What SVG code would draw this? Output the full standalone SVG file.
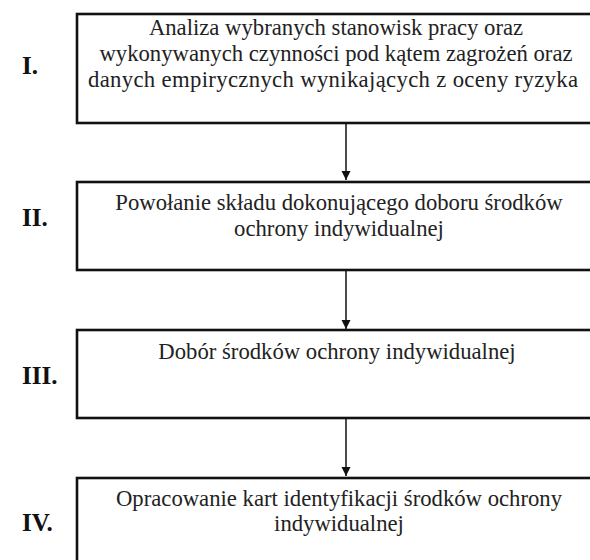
<svg xmlns="http://www.w3.org/2000/svg" width="590" height="560" viewBox="0 0 590 560">
<style>
.box{fill:#fff;stroke:#111;stroke-width:2.6}
.t{font-family:"Liberation Serif","Times New Roman",serif;font-size:22.7px;fill:#222;text-anchor:middle}
.n{font-family:"Liberation Serif","Times New Roman",serif;font-size:25px;font-weight:bold;fill:#111}
.c{stroke:#111;stroke-width:1.5;fill:none}
</style>
<defs>
<marker id="ah" markerWidth="10" markerHeight="10" refX="9" refY="5" orient="auto" markerUnits="userSpaceOnUse">
<path d="M0,0.5 L9,5 L0,9.5 Z" fill="#111"/>
</marker>
</defs>
<rect width="590" height="560" fill="#fff"/>
<g id="connectors">
<line class="c" x1="346" y1="124" x2="346" y2="180" marker-end="url(#ah)"/>
<line class="c" x1="346" y1="271" x2="346" y2="329" marker-end="url(#ah)"/>
<line class="c" x1="346" y1="418" x2="346" y2="476" marker-end="url(#ah)"/>
</g>
<g id="step1">
<rect class="box" x="77" y="14" width="530" height="109"/>
<text class="n" x="22" y="74">I.</text>
<text class="t" x="336" y="35">Analiza wybranych stanowisk pracy oraz</text>
<text class="t" x="336" y="61">wykonywanych czynności pod kątem zagrożeń oraz</text>
<text class="t" x="333" y="87" textLength="490" lengthAdjust="spacing">danych empirycznych wynikających z oceny ryzyka</text>
</g>
<g id="step2">
<rect class="box" x="77" y="182" width="530" height="88"/>
<text class="n" x="22" y="226">II.</text>
<text class="t" x="339" y="210">Powołanie składu dokonującego doboru środków</text>
<text class="t" x="339" y="236">ochrony indywidualnej</text>
</g>
<g id="step3">
<rect class="box" x="77" y="330" width="530" height="88"/>
<text class="n" x="22" y="384">III.</text>
<text class="t" x="337" y="359">Dobór środków ochrony indywidualnej</text>
</g>
<g id="step4">
<rect class="box" x="77" y="478" width="530" height="100"/>
<text class="n" x="22" y="531">IV.</text>
<text class="t" x="339" y="506">Opracowanie kart identyfikacji środków ochrony</text>
<text class="t" x="339" y="531">indywidualnej</text>
</g>
</svg>
